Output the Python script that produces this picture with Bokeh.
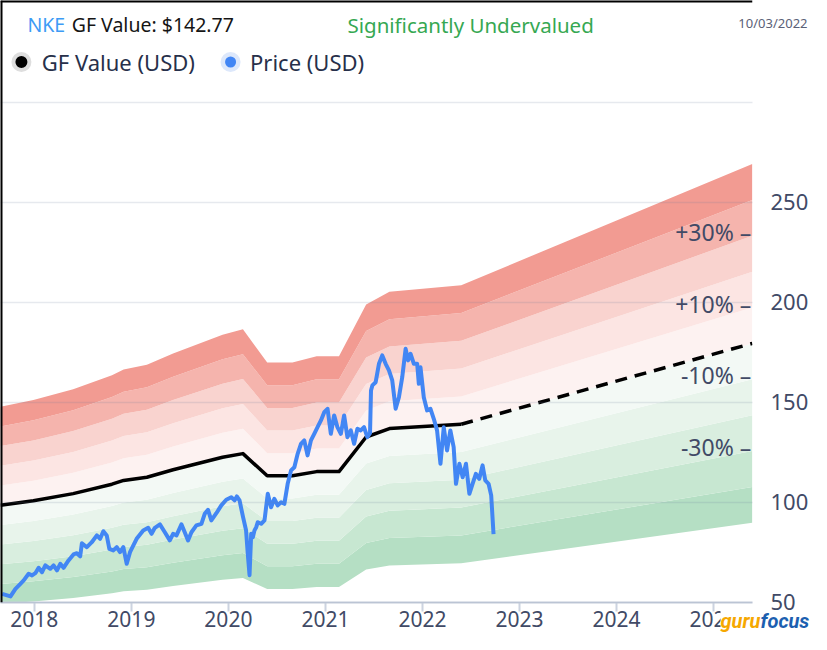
from bokeh.plotting import figure
from bokeh.models import FixedTicker, Label, Title, Span
from bokeh.embed import file_html
from bokeh.resources import INLINE
from bokeh.core.properties import value

# ---------------- data ----------------
ticker_symbol = "NKE"
gf_value_now = "$142.77"
valuation = "Significantly Undervalued"
as_of = "10/03/2022"
legend_labels = ["GF Value (USD)", "Price (USD)"]
logo_parts = ["guru", "focus"]

year_ticks = [2018, 2019, 2020, 2021, 2022, 2023, 2024, 2025]
year_labels = ["2018", "2019", "2020", "2021", "2022", "2023", "2024", "2025"]
price_ticks = [50, 100, 150, 200, 250]
grid_levels = [50, 100, 150, 200, 250, 300]

# GF Value line (decimal years); last segment is the projection (dashed)
gf_t = [2017.65, 2017.99, 2018.40, 2018.80, 2018.92, 2019.16, 2019.43, 2019.94,
        2020.15, 2020.40, 2020.66, 2020.91, 2021.14, 2021.42, 2021.66, 2022.40, 2025.40]
gf_v = [98.5, 100.7, 104.3, 109.0, 110.9, 112.5, 116.2, 122.5,
        124.3, 113.2, 113.2, 115.3, 115.3, 132.6, 136.8, 139.0, 179.4]
proj_start = 2022.40

price_t = [2017.668, 2017.754, 2017.805, 2017.856, 2017.890, 2017.941, 2017.976, 2018.010,
           2018.044, 2018.079, 2018.113, 2018.164, 2018.198, 2018.233, 2018.267, 2018.301,
           2018.352, 2018.403, 2018.438, 2018.472, 2018.490, 2018.541, 2018.592, 2018.644,
           2018.678, 2018.711, 2018.746, 2018.773, 2018.814, 2018.849, 2018.883, 2018.917,
           2018.952, 2018.986, 2019.054, 2019.122, 2019.173, 2019.208, 2019.242, 2019.294,
           2019.345, 2019.396, 2019.430, 2019.465, 2019.516, 2019.550, 2019.584, 2019.619,
           2019.670, 2019.722, 2019.756, 2019.790, 2019.824, 2019.876, 2019.927, 2019.978,
           2020.030, 2020.064, 2020.087, 2020.115, 2020.149, 2020.182, 2020.200, 2020.218,
           2020.235, 2020.252, 2020.269, 2020.287, 2020.303, 2020.338, 2020.372, 2020.406,
           2020.440, 2020.474, 2020.508, 2020.543, 2020.577, 2020.611, 2020.646, 2020.680,
           2020.714, 2020.748, 2020.782, 2020.816, 2020.851, 2020.885, 2020.919, 2020.954,
           2020.988, 2021.022, 2021.056, 2021.090, 2021.124, 2021.159, 2021.193, 2021.227,
           2021.262, 2021.296, 2021.330, 2021.364, 2021.398, 2021.432, 2021.460, 2021.470,
           2021.484, 2021.518, 2021.552, 2021.586, 2021.621, 2021.655, 2021.689, 2021.724,
           2021.758, 2021.792, 2021.827, 2021.853, 2021.878, 2021.912, 2021.946, 2021.963,
           2021.980, 2022.014, 2022.048, 2022.083, 2022.117, 2022.151, 2022.186, 2022.220,
           2022.254, 2022.288, 2022.322, 2022.346, 2022.381, 2022.415, 2022.449, 2022.484,
           2022.517, 2022.551, 2022.586, 2022.620, 2022.648, 2022.682, 2022.709, 2022.733]
price_v = [54.2, 52.9, 56.7, 59.2, 60.9, 64.2, 63.4, 64.5,
           67.2, 65.0, 68.4, 66.7, 68.4, 65.9, 69.2, 67.2,
           70.9, 73.9, 74.5, 72.9, 79.5, 77.5, 80.0, 83.4,
           81.7, 85.5, 83.4, 76.7, 75.9, 77.5, 75.0, 77.5,
           69.2, 75.0, 81.7, 85.9, 87.2, 84.2, 87.2, 88.9,
           85.0, 80.9, 84.2, 83.4, 88.9, 85.0, 80.9, 85.0,
           88.4, 89.2, 94.2, 96.2, 90.9, 94.5, 98.4, 101.2,
           102.5, 100.9, 102.9, 100.9, 93.0, 86.0, 74.0, 63.5,
           84.2, 82.5, 85.9, 87.5, 90.0, 89.2, 90.9, 104.2,
           97.5, 101.7, 98.4, 100.0, 99.2, 109.2, 115.9, 117.5,
           124.2, 129.2, 130.9, 123.4, 130.9, 134.2, 137.5, 140.9,
           145.0, 146.7, 134.2, 143.4, 137.5, 134.2, 143.4, 132.5,
           135.9, 129.2, 136.7, 135.9, 137.5, 132.5, 134.5, 155.9,
           158.4, 160.0, 169.2, 173.4, 169.2, 165.9, 160.9, 146.7,
           152.5, 162.5, 176.7, 170.9, 174.2, 169.2, 169.2, 159.2,
           167.5, 152.5, 145.9, 146.7, 141.7, 135.9, 119.2, 137.5,
           125.9, 135.9, 127.5, 109.2, 119.2, 112.5, 119.2, 104.2,
           109.2, 114.2, 111.7, 118.4, 110.9, 109.2, 103.4, 84.0]

band_factors = [0.5, 0.6, 0.7, 0.8, 0.9, 1.0, 1.1, 1.2, 1.3, 1.4, 1.5]
band_colors = ["#b5dfc4", "#c7e7d1", "#d9eedf", "#e8f4eb", "#f3f9f5",
               "#fdf2f1", "#fce5e3", "#f9d3cf", "#f5b4ad", "#f29b92"]
pct_labels = ["+30%", "+10%", "-10%", "-30%"]
pct_factors = [1.3, 1.1, 0.9, 0.7]

# ---------------- layout (pixel positions follow the reference picture) ----------------
W, H = 811, 634
FW, FH = 755, 602   # plot frame size
PANEL_TOP = FH      # zero-height title panels sit right under the frame


def X(px):
    return 2018 + (px - 34) / 97.4


def Y(py):
    return 100 + (501.7 - py) / 2.0


X0, X1 = X(0), X(FW)
Y0, Y1 = Y(FH), Y(0)

FONT = "Noto Sans"
AXIS_TXT = "#414a66"

p = figure(width=W, height=H, x_range=(X0, X1), y_range=(Y0, Y1),
           y_axis_location="right", output_backend="svg", toolbar_location=None,
           title=None, min_border_left=0, min_border_right=W - FW,
           min_border_top=0, min_border_bottom=H - FH)
p.outline_line_color = None
p.background_fill_color = "white"
p.border_fill_color = "white"

# bands
for i in range(len(band_colors)):
    lo, hi = band_factors[i], band_factors[i + 1]
    p.varea(x=gf_t, y1=[v * lo for v in gf_v], y2=[v * hi for v in gf_v],
            fill_color=band_colors[i], fill_alpha=1.0)

# GF value line
k = gf_t.index(proj_start)
p.line(gf_t[:k + 1], gf_v[:k + 1], line_color="black", line_width=3.5, line_join="round")
p.line(gf_t[k:], gf_v[k:], line_color="black", line_width=3.5, line_dash="12 8")

# price
p.line(price_t, price_v, line_color="#4286f4", line_width=4, line_join="round")

# percentage labels at right end
p.text(x=[gf_t[-1]] * len(pct_labels), y=[gf_v[-1] * f for f in pct_factors],
       text=[s + " \u2013" for s in pct_labels], text_align="right", text_baseline="middle",
       x_offset=-1, y_offset=-4, text_font=value(FONT), text_font_size="23px",
       text_color=AXIS_TXT)

# axes
ya = p.yaxis[0]
ya.ticker = FixedTicker(ticks=price_ticks)
ya.axis_line_color = None
ya.major_tick_line_color = None
ya.minor_tick_line_color = None
ya.major_tick_out = 0
ya.major_tick_in = 0
ya.minor_tick_out = 0
ya.major_label_text_font = FONT
ya.major_label_text_font_size = "22px"
ya.major_label_text_color = AXIS_TXT
ya.major_label_standoff = 18

xa = p.xaxis[0]
xa.ticker = FixedTicker(ticks=year_ticks)
xa.major_label_overrides = {t: l for t, l in zip(year_ticks, year_labels)}
xa.axis_line_color = "#ccd3e0"
xa.axis_line_width = 2
xa.major_tick_line_color = "#ccd3e0"
xa.major_tick_line_width = 2
xa.major_tick_out = 9
xa.major_tick_in = 0
xa.minor_tick_line_color = None
xa.minor_tick_out = 0
xa.major_label_text_font = FONT
xa.major_label_text_font_size = "21px"
xa.major_label_text_color = AXIS_TXT
xa.major_label_standoff = -1

p.xgrid.visible = False
p.ygrid.ticker = FixedTicker(ticks=grid_levels)
p.ygrid.grid_line_color = "#6b7a99"
p.ygrid.grid_line_alpha = 0.17
p.ygrid.grid_line_width = 1.5
p.ygrid.level = "guide"

# picture border (left and top edges)
p.add_layout(Span(location=X0, dimension="height", line_color="black", line_width=4))
p.add_layout(Span(location=Y1, dimension="width", line_color="black", line_width=4))

# legend markers
p.scatter(x=[X(21), X(21), X(231), X(231)], y=[Y(61.5)] * 4, size=[20, 12, 20, 11],
          color=["#dedede", "black", "#dde8fb", "#4286f4"], line_width=0)


def add_label(px, py, txt, color, size, align="left", style="normal"):
    lab = Label(x=X(px), y=Y(py), text=txt, text_color=color, text_font=FONT,
                text_font_size=size, text_align=align, text_baseline="middle",
                text_font_style=style)
    p.add_layout(lab)


add_label(27, 24, ticker_symbol, "#3d9bf5", "19.5px")
add_label(71.5, 24, "GF Value: " + gf_value_now, "#151515", "19.5px")
add_label(472, 24, valuation, "#36a852", "20.5px", align="center")
add_label(41.5, 61.5, legend_labels[0], "#27304a", "22px")
add_label(250.5, 61.5, legend_labels[1], "#27304a", "22px")


# texts outside the plot frame: zero-height titles placed right under the frame
def side_title(txt, color, size, font, style, align, valign, sx, sy, bg=None):
    off = sx if align == "left" else FW - sx
    if valign == "top":
        standoff = 2 * (sy - PANEL_TOP)
    else:
        standoff = 2 * (PANEL_TOP - sy)
    t = Title(text=txt, align=align, vertical_align=valign, offset=off,
              standoff=standoff, text_color=color,
              text_font=font, text_font_size=size, text_font_style=style)
    if bg is not None:
        t.background_fill_color = bg
    p.add_layout(t, "below")
    return t


try:
    titles = [
        side_title(as_of, "#5b6177", "13px", FONT, "normal", "right", "top", 810, 13),
        side_title(logo_parts[0], "#f6a800", "20px", "Roboto", "bold italic", "left", "bottom",
                   720, 632, bg="white"),
        side_title(logo_parts[1], "#1c5fb0", "20px", "Roboto", "bold italic", "left", "bottom",
                   760, 632),
    ]
    p.below = titles + [r for r in p.below if r not in titles]
except Exception:
    add_label(755, 20, as_of, "#5b6177", "13px", align="right")
    add_label(680, 580, logo_parts[0] + logo_parts[1], "#1c5fb0", "19px", style="bold italic")

open("out.html", "w").write(file_html(p, INLINE))
